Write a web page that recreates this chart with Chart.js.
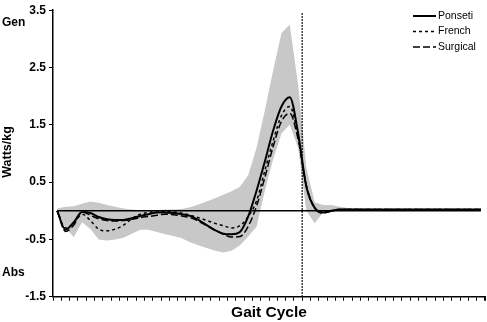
<!DOCTYPE html>
<html><head><meta charset="utf-8">
<script src="https://cdn.jsdelivr.net/npm/chart.js@4.4.1/dist/chart.umd.min.js"></script>
<style>html,body{margin:0;padding:0;background:#fff;}#wrap{width:487px;height:322px;}</style>
</head><body><div id="wrap"><canvas id="c" width="487" height="322"></canvas></div>
<script>
// ---- data (gait cycle samples) ----
const CATEGORIES = [0,2,4,6,8,10,12,14,16,18,20,22,24,26,28,30,32,34,36,38,40,42,44,46,48,50,
  52,54,56,58,60,62,64,66,68,70,72,74,76,78,80,82,84,86,88,90,92,94,96,98,100,102];
const PONSETI = [0,-0.33,-0.2,-0.02,-0.04,-0.11,-0.15,-0.16,-0.16,-0.13,-0.09,-0.06,-0.03,-0.03,-0.04,-0.06,
  -0.09,-0.16,-0.25,-0.34,-0.4,-0.41,-0.37,-0.1,0.35,0.86,1.4,1.82,1.98,1.36,0.42,0.05,-0.03,0.0,
  0.02,0.02,0.02,0.02,0.02,0.02,0.02,0.02,0.02,0.02,0.02,0.02,0.02,0.02,0.02,0.02,0.02,0.02];
const FRENCH = [0,-0.3,-0.22,-0.06,-0.17,-0.32,-0.35,-0.32,-0.25,-0.14,-0.06,-0.03,-0.02,-0.01,-0.02,-0.04,
  -0.08,-0.12,-0.17,-0.22,-0.26,-0.3,-0.26,-0.1,0.17,0.7,1.22,1.66,1.82,1.3,0.42,0.05,-0.03,0.0,
  0.02,0.02,0.02,0.02,0.02,0.02,0.02,0.02,0.02,0.02,0.02,0.02,0.02,0.02,0.02,0.02,0.02,0.02];
const SURGICAL = [0,-0.36,-0.25,-0.02,-0.08,-0.14,-0.17,-0.18,-0.17,-0.15,-0.12,-0.1,-0.08,-0.06,-0.07,-0.09,
  -0.12,-0.18,-0.26,-0.34,-0.41,-0.46,-0.45,-0.27,0.08,0.58,1.12,1.56,1.7,1.25,0.44,0.05,-0.04,-0.01,
  0.02,0.02,0.02,0.02,0.02,0.02,0.02,0.02,0.02,0.02,0.02,0.02,0.02,0.02,0.02,0.02,0.02,0.02];
const BAND_UPPER = [0.04,0.07,0.08,0.12,0.16,0.14,0.1,0.07,0.04,0.02,0.01,0.01,0.01,0.02,0.02,0.03,
  0.06,0.11,0.16,0.22,0.28,0.34,0.42,0.62,1.1,1.75,2.45,3.1,3.25,2.2,0.75,0.15,0.1,0.1,
  0.07,0.05,0.04,0.03,0.03,0.03,0.03,0.03,0.03,0.03,0.03,0.03,0.03,0.03,0.03,0.03,0.03,0.03];
const BAND_LOWER = [-0.02,-0.3,-0.46,-0.2,-0.32,-0.5,-0.52,-0.5,-0.47,-0.4,-0.33,-0.33,-0.37,-0.41,-0.44,-0.48,
  -0.55,-0.6,-0.65,-0.7,-0.73,-0.7,-0.6,-0.45,-0.28,0.35,0.9,1.35,1.5,1.1,0.0,-0.22,-0.03,0.0,
  0,0,0,0,0,0,0,0,0,0,0,0,0,0,0,0,0,0];
const ZERO_LINE = [0,0,0,0,0,0,0,0,0,0,0,0,0,0,0,0,0,0,0,0,0,0,0,0,0,0,
  0,0,0,0,0,0,0,0,0,0,0,0,0,0,0,0,0,0,0,0,0,0,0,0,0,0];
const Y_TICKS = [-1.5,-0.5,0.5,1.5,2.5,3.5];
const TOE_OFF = 29.5; // boundary between samples 29 and 30
const SERIES_NAMES = ['Ponseti','French','Surgical'];

const FONT = '"Liberation Sans", Arial, Helvetica, sans-serif';

const textPlugin = {
  id: 'extras',
  afterDatasetsDraw(chart) {
    const ctx = chart.ctx, ca = chart.chartArea, xs = chart.scales.x;
    const xp = xs.getPixelForValue(TOE_OFF);
    ctx.save();
    ctx.strokeStyle = '#000'; ctx.lineWidth = 1.5; ctx.setLineDash([1.5,1.5]);
    ctx.beginPath(); ctx.moveTo(xp, ca.top + 3); ctx.lineTo(xp, ca.bottom); ctx.stroke();
    ctx.restore();
  },
  afterDraw(chart) {
    const ctx = chart.ctx, ca = chart.chartArea, xs = chart.scales.x;
    ctx.save();
    // closing tick mark at the right end of the category axis
    const xe = xs.getPixelForValue(CATEGORIES.length - 0.5);
    ctx.strokeStyle = '#000'; ctx.lineWidth = 1;
    ctx.beginPath(); ctx.moveTo(Math.round(xe) - 0.5, ca.bottom); ctx.lineTo(Math.round(xe) - 0.5, ca.bottom + 4); ctx.stroke();
    ctx.fillStyle = '#000';
    ctx.font = 'bold 12px ' + FONT;
    ctx.textBaseline = 'middle'; ctx.textAlign = 'left';
    ctx.fillText('Gen', 2, 23);
    ctx.fillText('Abs', 2, 273);
    ctx.save();
    ctx.translate(8, 152); ctx.rotate(-Math.PI/2);
    ctx.textAlign = 'center'; ctx.font = 'bold 12.5px ' + FONT;
    ctx.fillText('Watts/kg', 0, 0);
    ctx.restore();
    ctx.textAlign = 'center'; ctx.font = 'bold 15.5px ' + FONT;
    ctx.fillText('Gait Cycle', (ca.left + ca.right)/2, 313);
    const ys = [16, 31.5, 47];
    SERIES_NAMES.forEach((name, i) => {
      const ds = chart.data.datasets.find(d => d.label === name);
      ctx.save();
      ctx.strokeStyle = '#000'; ctx.lineWidth = ds.borderWidth;
      ctx.setLineDash(ds.borderDash || []);
      ctx.beginPath(); ctx.moveTo(413, ys[i]); ctx.lineTo(436, ys[i]); ctx.stroke();
      ctx.restore();
      ctx.font = '10.5px ' + FONT; ctx.textAlign = 'left'; ctx.textBaseline = 'middle';
      ctx.fillText(name, 438, ys[i]);
    });
    ctx.restore();
  }
};

new Chart(document.getElementById('c'), {
  type: 'line',
  data: {
    labels: CATEGORIES,
    datasets: [
      { label: 'Ponseti', data: PONSETI, borderColor: '#000', borderWidth: 2, pointRadius: 0,
        cubicInterpolationMode: 'monotone', fill: false, order: 1 },
      { label: 'French', data: FRENCH, borderColor: '#000', borderWidth: 1.5, borderDash: [3,3], pointRadius: 0,
        cubicInterpolationMode: 'monotone', fill: false, order: 2 },
      { label: 'Surgical', data: SURGICAL, borderColor: '#000', borderWidth: 1.5, borderDash: [7,3], pointRadius: 0,
        cubicInterpolationMode: 'monotone', fill: false, order: 3 },
      { label: 'zero', data: ZERO_LINE, borderColor: '#000', borderWidth: 1.5, pointRadius: 0, fill: false, order: 5 },
      { label: 'lower', data: BAND_LOWER, borderWidth: 0, borderColor: 'rgba(0,0,0,0)', pointRadius: 0, tension: 0, fill: false, order: 10 },
      { label: 'upper', data: BAND_UPPER, borderWidth: 0, borderColor: 'rgba(0,0,0,0)', pointRadius: 0, tension: 0,
        fill: '-1', backgroundColor: '#c8c8c8', order: 9 }
    ]
  },
  options: {
    responsive: false, animation: false, devicePixelRatio: 1,
    layout: { padding: { top: 6, right: 2, left: 0, bottom: 0 } },
    plugins: { legend: { display: false }, tooltip: { enabled: false } },
    scales: {
      x: {
        type: 'category', offset: true,
        grid: { display: true, offset: true, drawOnChartArea: false, drawTicks: true, tickLength: 4, color: '#000', lineWidth: 1 },
        ticks: { display: false, autoSkip: false },
        border: { display: true, color: '#000', width: 1.5 },
        afterFit(s) { s.height = 25.3; }
      },
      y: {
        min: -1.5, max: 3.5,
        afterBuildTicks(s) { s.ticks = Y_TICKS.map(v => ({ value: v })); },
        ticks: { color: '#000', padding: 3, font: { family: FONT, size: 12, weight: 'bold' },
          callback: v => Number(v).toFixed(1) },
        grid: { display: true, drawOnChartArea: false, drawTicks: true, tickLength: 4, color: '#000', lineWidth: 1 },
        border: { display: true, color: '#000', width: 1.5 },
        afterFit(s) { s.width = 53; }
      }
    }
  },
  plugins: [textPlugin]
});
</script></body></html>
